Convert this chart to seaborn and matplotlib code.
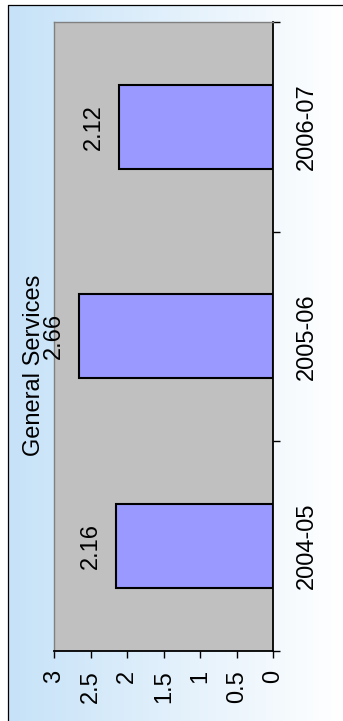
import numpy as np
import pandas as pd
import matplotlib
matplotlib.use("Agg")
import matplotlib.pyplot as plt
import matplotlib.colors as mcolors
import seaborn as sns

# Chart data
categories = ["2004-05", "2005-06", "2006-07"]
values = [2.16, 2.66, 2.12]
value_ticks = [0, 0.5, 1, 1.5, 2, 2.5, 3]
value_tick_labels = ["0", "0.5", "1", "1.5", "2", "2.5", "3"]
title = "General Services"

sns.set_theme(style="white")
plt.rcParams["font.family"] = ["Liberation Sans", "DejaVu Sans"]

W, H = 343, 721
FS = 17
fig = plt.figure(figsize=(W / 100, H / 100), dpi=100)
fig.patch.set_facecolor("white")

# Chart-area background: blue-to-white gradient with a thin frame
bg = fig.add_axes([0, 0, 1, 1], zorder=0)
bg.set_xlim(0, W)
bg.set_ylim(H, 0)
bg.axis("off")
t = np.linspace(0, 1, 256)
c0 = np.array(mcolors.to_rgb("#C6E2F8"))
c1 = np.array([1.0, 1.0, 1.0])
grad = c0[None, None, :] * (1 - t)[None, :, None] + c1[None, None, :] * t[None, :, None]
bg.imshow(grad, extent=[8, W, H, 5], aspect="auto", interpolation="bilinear")
bg.plot([8, 8], [H, 5], color="black", lw=0.9)
bg.plot([8, W], [5, 5], color="black", lw=0.9)

# Plot area
ax = fig.add_axes([54.3 / W, (H - 650.7) / H, 219.0 / W, 628.7 / H], zorder=1)
ax.set_facecolor("#C0C0C0")

order = categories[::-1]
df = pd.DataFrame({"period": categories, "value": values})
sns.barplot(data=df, x="value", y="period", order=order, color="#9999FF",
            saturation=1, edgecolor="black", linewidth=1.5, width=0.4, ax=ax)

ax.set_xlim(3, 0)
ax.set_ylim(len(order) - 0.5, -0.5)
ax.set_xlabel("")
ax.set_ylabel("")

# Value axis (bottom)
ax.set_xticks(value_ticks)
ax.set_xticklabels(value_tick_labels)
ax.tick_params(axis="x", which="major", direction="out", length=5, width=1,
               color="black", pad=9, labelsize=FS, labelrotation=90,
               bottom=True, labelcolor="black")

# Category axis (right)
ax.yaxis.tick_right()
ax.set_yticks(range(len(order)))
ax.set_yticklabels(order)
ax.set_yticks([i - 0.5 for i in range(len(order) + 1)], minor=True)
ax.tick_params(axis="y", which="major", length=0, pad=16, labelsize=FS,
               labelrotation=90, right=True, left=False, labelcolor="black")
ax.tick_params(axis="y", which="minor", direction="out", length=5, width=1,
               color="black", right=True, left=False)
for lab in ax.get_yticklabels():
    lab.set_va("center")

for side in ["right", "bottom"]:
    ax.spines[side].set_color("black")
    ax.spines[side].set_linewidth(1.3)
for side in ["left", "top"]:
    ax.spines[side].set_color("#808080")
    ax.spines[side].set_linewidth(1.0)

# Value labels next to each bar
for cat, val in zip(categories, values):
    ax.annotate(f"{val:.2f}", xy=(val, order.index(cat)), xytext=(-18, 0),
                textcoords="offset points", rotation=90, ha="center",
                va="center", fontsize=FS, color="black")

fig.text(34 / W, 1 - 365 / H, title, rotation=90, ha="center", va="center",
         fontsize=FS, color="black", zorder=3)

fig.savefig("out.png", dpi=100)
